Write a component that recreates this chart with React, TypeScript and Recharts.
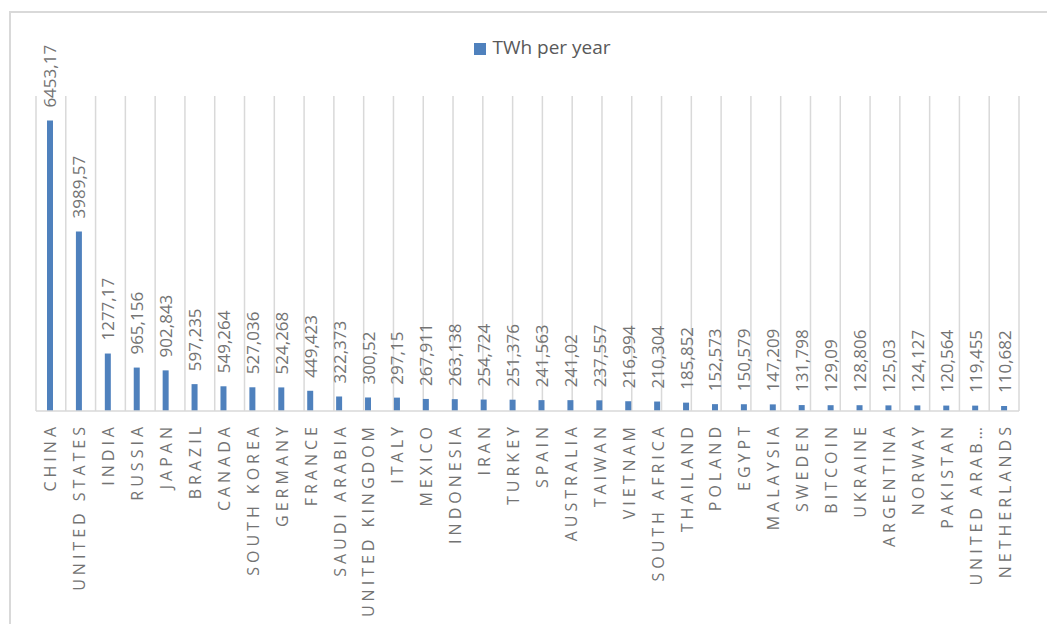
import React from "react";
import { BarChart, Bar, XAxis, YAxis, CartesianGrid, Legend, LabelList } from "recharts";

const countries: string[] = [
  "CHINA", "UNITED STATES", "INDIA", "RUSSIA", "JAPAN", "BRAZIL", "CANADA", "SOUTH KOREA",
  "GERMANY", "FRANCE", "SAUDI ARABIA", "UNITED KINGDOM", "ITALY", "MEXICO", "INDONESIA", "IRAN",
  "TURKEY", "SPAIN", "AUSTRALIA", "TAIWAN", "VIETNAM", "SOUTH AFRICA", "THAILAND", "POLAND",
  "EGYPT", "MALAYSIA", "SWEDEN", "BITCOIN", "UKRAINE", "ARGENTINA", "NORWAY", "PAKISTAN",
  "UNITED ARAB…", "NETHERLANDS",
];

const twhPerYear: number[] = [
  6453.17, 3989.57, 1277.17, 965.156, 902.843, 597.235, 549.264, 527.036,
  524.268, 449.423, 322.373, 300.52, 297.15, 267.911, 263.138, 254.724,
  251.376, 241.563, 241.02, 237.557, 216.994, 210.304, 185.852, 152.573,
  150.579, 147.209, 131.798, 129.09, 128.806, 125.03, 124.127, 120.564,
  119.455, 110.682,
];

const seriesName = "TWh per year";
const yDomain: [number, number] = [0, 7000];

const data = countries.map((c, i) => ({ country: c, value: twhPerYear[i] }));
const gridTicks = Array.from({ length: countries.length + 1 }, (_, i) => i);

const FONT = "'Open Sans', 'Liberation Sans', sans-serif";
const TEXT = "#595959";
const LABEL = "#737373";
const BLUE = "#4F81BD";
const GRID = "#D9D9D9";

const CountryTick = (props: any) => {
  const { x, y, payload } = props;
  const ay = y + 12;
  return (
    <text
      x={x}
      y={ay}
      transform={`rotate(-90, ${x}, ${ay})`}
      textAnchor="end"
      dominantBaseline="central"
      fill={LABEL}
      fontSize={16}
      fontFamily={FONT}
      style={{ letterSpacing: "4px" }}
    >
      {payload.value}
    </text>
  );
};

const ValueLabel = (props: any) => {
  const { x, y, width, value } = props;
  const cx = x + width / 2;
  const ay = y - 13;
  return (
    <text
      x={cx}
      y={ay}
      transform={`rotate(-90, ${cx}, ${ay})`}
      textAnchor="start"
      dominantBaseline="central"
      fill={LABEL}
      fontSize={17}
      fontFamily={FONT}
    >
      {String(value).replace(".", ",")}
    </text>
  );
};

export default function App() {
  return (
    <div style={{ position: "relative", width: 1047, height: 616, overflow: "hidden" }}>
      <div
        style={{
          position: "absolute",
          left: 1,
          top: 3,
          width: 1200,
          height: 800,
          borderTop: `2px solid ${GRID}`,
          borderLeft: `2px solid ${GRID}`,
          boxSizing: "border-box",
        }}
      />
      <div style={{ position: "absolute", left: 0, top: 0 }}>
        <BarChart
          width={1040}
          height={610}
          data={data}
          margin={{ top: 62, right: 29, bottom: 7, left: 28 }}
          barCategoryGap={0}
        >
          <CartesianGrid
            xAxisId="grid"
            horizontal={false}
            stroke={GRID}
            strokeWidth={1.5}
          />
          <XAxis
            xAxisId="grid"
            type="number"
            domain={[0, countries.length]}
            ticks={gridTicks}
            hide
          />
          <XAxis
            dataKey="country"
            interval={0}
            height={200}
            tickSize={0}
            tickMargin={0}
            tickLine={false}
            axisLine={{ stroke: GRID, strokeWidth: 1.5 }}
            tick={<CountryTick />}
          />
          <YAxis domain={yDomain} hide />
          <Legend
            verticalAlign="top"
            align="center"
            iconType="square"
            iconSize={12}
            wrapperStyle={{ top: 26, left: 48, fontFamily: FONT, fontSize: 19 }}
            formatter={(v: string) => <span style={{ color: TEXT, marginLeft: 2 }}>{v}</span>}
          />
          <Bar
            dataKey="value"
            name={seriesName}
            fill={BLUE}
            barSize={6}
            isAnimationActive={false}
          >
            <LabelList dataKey="value" content={<ValueLabel />} />
          </Bar>
        </BarChart>
      </div>
    </div>
  );
}
